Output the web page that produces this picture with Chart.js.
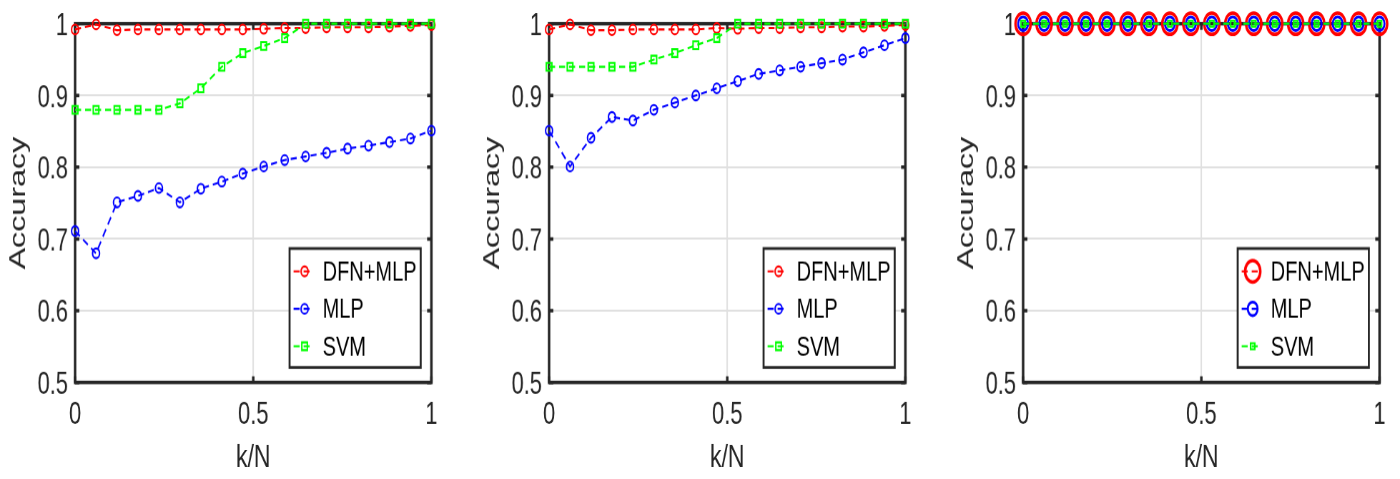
<!DOCTYPE html>
<html>
<head>
<meta charset="utf-8">
<script src="https://cdn.jsdelivr.net/npm/chart.js@4.4.0/dist/chart.umd.min.js"></script>
<style>
  html, body { margin: 0; padding: 0; background: #fff; overflow: hidden; width: 1400px; height: 479px; }
  .panel { position: absolute; top: 0; height: 479px; }
  /* the reference figure is stretched vertically, so the canvases are too */
  .panel canvas { transform-origin: 0 0; transform: scaleY(1.4006); }
</style>
</head>
<body>
<div class="panel" style="left:0px;width:474px"><canvas id="chartA" width="474" height="342"></canvas></div>
<div class="panel" style="left:474px;width:474px"><canvas id="chartB" width="474" height="342"></canvas></div>
<div class="panel" style="left:948px;width:452px"><canvas id="chartC" width="452" height="342"></canvas></div>
<script>
// k = 0..17, x = k/N
const N = 17;
const kValues = [0, 1, 2, 3, 4, 5, 6, 7, 8, 9, 10, 11, 12, 13, 14, 15, 16, 17];
const xTickValues = [0, 0.5, 1];
const yTickValues = [0.5, 0.6, 0.7, 0.8, 0.9, 1];
const seriesLabels = ['DFN+MLP', 'MLP', 'SVM'];
const seriesColors = ['#ff0000', '#0000ff', '#00ff00'];
const seriesMarkers = ['circle', 'circle', 'rect'];

// left panel
const dfnA = [0.992, 0.999, 0.991, 0.992, 0.992, 0.992, 0.992, 0.992, 0.992, 0.993, 0.994, 0.994, 0.995, 0.995, 0.995, 0.996, 0.997, 0.998];
const mlpA = [0.711, 0.68, 0.751, 0.76, 0.771, 0.751, 0.77, 0.78, 0.791, 0.801, 0.81, 0.815, 0.82, 0.826, 0.83, 0.835, 0.84, 0.851];
const svmA = [0.88, 0.88, 0.88, 0.88, 0.88, 0.889, 0.91, 0.94, 0.959, 0.969, 0.98, 1, 1, 1, 1, 1, 1, 1];

// middle panel
const dfnB = [0.992, 0.999, 0.991, 0.991, 0.992, 0.992, 0.992, 0.992, 0.994, 0.993, 0.994, 0.994, 0.995, 0.995, 0.996, 0.996, 0.997, 0.998];
const mlpB = [0.851, 0.801, 0.841, 0.87, 0.865, 0.88, 0.89, 0.9, 0.91, 0.92, 0.93, 0.935, 0.94, 0.945, 0.95, 0.96, 0.97, 0.98];
const svmB = [0.94, 0.94, 0.94, 0.94, 0.94, 0.95, 0.959, 0.97, 0.98, 1, 1, 1, 1, 1, 1, 1, 1, 1];

// right panel
const dfnC = [1, 1, 1, 1, 1, 1, 1, 1, 1, 1, 1, 1, 1, 1, 1, 1, 1, 1];
const mlpC = [1, 1, 1, 1, 1, 1, 1, 1, 1, 1, 1, 1, 1, 1, 1, 1, 1, 1];
const svmC = [1, 1, 1, 1, 1, 1, 1, 1, 1, 1, 1, 1, 1, 1, 1, 1, 1, 1];

Chart.defaults.font.family = "'Liberation Sans', Arial, Helvetica, sans-serif";
const ink = '#262626';
const fmt = v => String(Math.round(v * 10) / 10);

// box around the axes + inward ticks
const framePlugin = {
  id: 'frame',
  beforeDatasetsDraw(chart) {
    const { ctx, chartArea: a, scales } = chart;
    ctx.save();
    ctx.strokeStyle = ink;
    ctx.lineWidth = 2.5;
    ctx.strokeRect(a.left, a.top, a.right - a.left, a.bottom - a.top);
    ctx.beginPath();
    yTickValues.forEach(v => {
      const py = scales.y.getPixelForValue(v);
      ctx.moveTo(a.left, py); ctx.lineTo(a.left + 4.3, py);
      ctx.moveTo(a.right, py); ctx.lineTo(a.right - 4.3, py);
    });
    xTickValues.forEach(v => {
      const px = scales.x.getPixelForValue(v);
      ctx.moveTo(px, a.bottom); ctx.lineTo(px, a.bottom - 4.3);
      ctx.moveTo(px, a.top); ctx.lineTo(px, a.top + 4.3);
    });
    ctx.stroke();
    ctx.restore();
  }
};

// matlab-style legend in the lower right corner
const boxLegend = {
  id: 'boxLegend',
  afterDatasetsDraw(chart) {
    const { ctx, chartArea: a } = chart;
    const w = 131, h = 84.8;
    const left = a.right - 10.7 - w, top = a.bottom - 95.5;
    ctx.save();
    ctx.fillStyle = '#fff';
    ctx.fillRect(left, top, w, h);
    ctx.lineWidth = 2;
    ctx.strokeStyle = ink;
    ctx.strokeRect(left, top, w, h);
    chart.data.datasets.forEach((ds, i) => {
      const y = top + 16.3 + i * 26.7;
      ctx.setLineDash(ds.borderDash);
      ctx.strokeStyle = ds.borderColor;
      ctx.lineWidth = ds.borderWidth;
      ctx.beginPath();
      ctx.moveTo(left + 4, y);
      ctx.lineTo(left + 24, y);
      ctx.stroke();
      ctx.setLineDash([]);
      ctx.fillStyle = 'rgba(0,0,0,0)';
      ctx.lineWidth = ds.pointBorderWidth;
      Chart.helpers.drawPoint(ctx, {
        pointStyle: ds.pointStyle, radius: ds.pointRadius, rotation: 0, borderWidth: ds.pointBorderWidth
      }, left + 15, y);
      ctx.fillStyle = '#000';
      ctx.font = "20px 'Liberation Sans', Arial, sans-serif";
      ctx.textBaseline = 'middle';
      ctx.fillText(ds.label, left + 33, y + 1);
    });
    ctx.restore();
  }
};

function makeChart(id, seriesValues, radii, widths, rightPad) {
  const datasets = seriesValues.map((vals, i) => ({
    label: seriesLabels[i],
    data: kValues.map((k, j) => ({ x: k / N, y: vals[j] })),
    borderColor: seriesColors[i],
    backgroundColor: seriesColors[i],
    borderWidth: 1.5,
    borderDash: [6, 4],
    pointStyle: seriesMarkers[i],
    pointRadius: radii[i],
    pointBorderWidth: widths[i],
    pointBackgroundColor: 'rgba(0,0,0,0)',
    pointBorderColor: seriesColors[i],
    order: 2 - i,
    clip: false,
    tension: 0
  }));

  return new Chart(document.getElementById(id), {
    type: 'line',
    data: { datasets },
    options: {
      responsive: false,
      animation: false,
      devicePixelRatio: 1.4,
      layout: { padding: { top: 10.7, right: rightPad, bottom: 0, left: 0 } },
      plugins: { legend: { display: false }, tooltip: { enabled: false } },
      scales: {
        x: {
          type: 'linear', min: 0, max: 1,
          afterBuildTicks: s => { s.ticks = xTickValues.map(v => ({ value: v })); },
          afterFit: s => { s.height = 69.4; },
          grid: { color: '#e0e0e0', lineWidth: 1.5, drawTicks: false },
          border: { display: false },
          ticks: { padding: 10, color: ink, font: { size: 22 }, maxRotation: 0, callback: fmt },
          title: { display: true, text: 'k/N', color: ink, font: { size: 23, lineHeight: 1 }, padding: { top: 0, bottom: 4.2 } }
        },
        y: {
          type: 'linear', min: 0.5, max: 1,
          afterBuildTicks: s => { s.ticks = yTickValues.map(v => ({ value: v })); },
          afterFit: s => { s.width = 75; },
          grid: { color: '#e0e0e0', lineWidth: 1.5, drawTicks: false },
          border: { display: false },
          ticks: { padding: 7, labelOffset: 2, color: ink, font: { size: 22, lineHeight: 0.9 }, callback: fmt },
          title: { display: true, text: 'Accuracy', color: ink, font: { size: 23, lineHeight: 1 }, padding: { top: 7.2, bottom: 0 } }
        }
      }
    },
    plugins: [framePlugin, boxLegend]
  });
}

makeChart('chartA', [dfnA, mlpA, svmA], [3.5, 3.5, 3.9], [1.5, 1.5, 1.5], 43);
makeChart('chartB', [dfnB, mlpB, svmB], [3.5, 3.5, 3.9], [1.5, 1.5, 1.5], 43);
makeChart('chartC', [dfnC, mlpC, svmC], [7.6, 4.9, 3], [2.5, 2, 1.5], 21);
</script>
</body>
</html>
